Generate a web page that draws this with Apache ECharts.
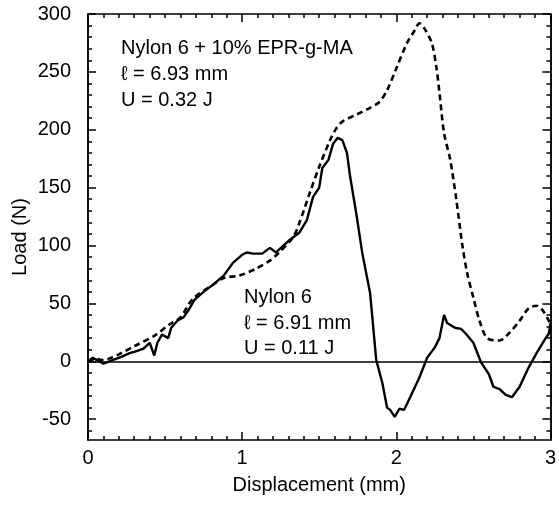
<!DOCTYPE html>
<html>
<head>
<meta charset="utf-8">
<script src="https://cdn.jsdelivr.net/npm/echarts@6/dist/echarts.min.js"></script>
<style>
  html, body { margin: 0; padding: 0; background: #fff; }
  #chart { width: 559px; height: 505px; }
</style>
</head>
<body>
<div id="chart"></div>
<script>
// Nylon 6 + 10% EPR-g-MA (dashed)
const blendX = [0, 0.05, 0.1, 0.15, 0.2, 0.3, 0.43, 0.53, 0.6, 0.68, 0.81, 0.88, 0.98, 1.09, 1.18, 1.24, 1.33, 1.37, 1.44, 1.5, 1.57, 1.61, 1.65, 1.74, 1.83, 1.89, 1.94, 2.0, 2.07, 2.12, 2.15, 2.18, 2.23, 2.26, 2.28, 2.31, 2.35, 2.39, 2.43, 2.46, 2.5, 2.54, 2.59, 2.67, 2.73, 2.8, 2.86, 2.91, 2.95, 2.99, 3.0]
const blendY = [0, 2, 1, 3, 6, 13, 22, 32, 38, 54, 66, 72, 74, 80, 87, 94, 107, 119, 146, 168, 191, 201, 207, 213, 219, 224, 234, 253, 275, 286, 292, 288, 275, 254, 232, 197, 174, 139, 99, 76, 55, 35, 20, 18, 24, 35, 46, 48, 44, 35, 32]

// Nylon 6 (solid)
const nylonX = [0, 0.03, 0.06, 0.1, 0.16, 0.22, 0.27, 0.32, 0.36, 0.4, 0.43, 0.45, 0.48, 0.52, 0.54, 0.58, 0.62, 0.66, 0.69, 0.75, 0.81, 0.88, 0.94, 1.0, 1.03, 1.07, 1.13, 1.18, 1.22, 1.26, 1.31, 1.37, 1.42, 1.46, 1.5, 1.52, 1.56, 1.59, 1.62, 1.65, 1.68, 1.7, 1.74, 1.78, 1.83, 1.87, 1.91, 1.94, 1.96, 1.99, 2.02, 2.05, 2.09, 2.15, 2.2, 2.25, 2.28, 2.31, 2.33, 2.38, 2.42, 2.45, 2.5, 2.55, 2.6, 2.63, 2.67, 2.71, 2.75, 2.8, 2.86, 2.91, 2.96, 2.99, 3.0]
const nylonY = [0, 3, 1, -2, 1, 4, 7, 9, 11, 16, 5, 16, 23, 20, 29, 35, 38, 46, 53, 60, 66, 74, 85, 92, 94, 93, 93, 98, 94, 99, 105, 111, 122, 142, 150, 167, 174, 188, 193, 191, 180, 160, 128, 93, 59, 1, -19, -40, -42, -48, -41, -42, -31, -14, 3, 12, 20, 40, 33, 29, 28, 24, 16, -1, -11, -22, -24, -29, -31, -22, -5, 7, 18, 24, 33]

const majorY = [-50, 0, 50, 100, 150, 200, 250, 300]
const minorY = [-60, -50, -40, -30, -20, -10, 0, 10, 20, 30, 40, 50, 60, 70, 80, 90, 100, 110, 120, 130, 140, 150, 160, 170, 180, 190, 200, 210, 220, 230, 240, 250, 260, 270, 280, 290, 300]

const font = 'Liberation Sans, Arial, Helvetica, sans-serif'
const zip = (xs, ys) => xs.map((x, i) => [x, ys[i]])

const chart = echarts.init(document.getElementById('chart'))

const yBase = {
  type: 'value',
  min: -68,
  max: 300,
  splitLine: { show: false },
  axisLine: { show: true, onZero: false, lineStyle: { color: '#000', width: 1.5 } }
}
const xBase = {
  type: 'value',
  min: 0,
  max: 3,
  interval: 1,
  splitLine: { show: false },
  axisLine: { show: true, onZero: false, lineStyle: { color: '#000', width: 1.5 } },
  axisTick: { show: true, inside: true, length: 8, lineStyle: { color: '#000', width: 1.5 } },
  minorTick: { show: true, splitNumber: 10, length: 4, lineStyle: { color: '#000', width: 1.5 } }
}

chart.setOption({
  animation: false,
  grid: { left: 88, right: 8, top: 14, bottom: 65 },
  xAxis: [
    Object.assign({}, xBase, {
      position: 'bottom',
      name: 'Displacement (mm)',
      nameLocation: 'middle',
      nameGap: 35,
      nameTextStyle: { fontSize: 20, color: '#000', fontFamily: font },
      axisLabel: { fontSize: 20, color: '#000', fontFamily: font, margin: 8 }
    }),
    Object.assign({}, xBase, {
      position: 'top',
      axisLabel: { show: false }
    })
  ],
  yAxis: [
    Object.assign({}, yBase, {
      position: 'left',
      axisLabel: { customValues: majorY, fontSize: 20, color: '#000', fontFamily: font, margin: 17 },
      axisTick: { customValues: majorY, inside: true, length: 8, lineStyle: { color: '#000', width: 1.5 } }
    }),
    Object.assign({}, yBase, {
      position: 'left',
      axisLabel: { show: false },
      axisTick: { customValues: minorY, inside: true, length: 4, lineStyle: { color: '#000', width: 1.5 } }
    }),
    Object.assign({}, yBase, {
      position: 'right',
      axisLabel: { show: false },
      axisTick: { customValues: majorY, inside: true, length: 8, lineStyle: { color: '#000', width: 1.5 } }
    }),
    Object.assign({}, yBase, {
      position: 'right',
      axisLabel: { show: false },
      axisTick: { customValues: minorY, inside: true, length: 4, lineStyle: { color: '#000', width: 1.5 } }
    })
  ],
  series: [
    {
      name: 'Nylon 6 + 10% EPR-g-MA',
      type: 'line',
      data: zip(blendX, blendY),
      smooth: 0.3,
      symbol: 'none',
      lineStyle: { color: '#000', width: 2.6, type: [6, 4] }
    },
    {
      name: 'Nylon 6',
      type: 'line',
      data: zip(nylonX, nylonY),
      symbol: 'none',
      lineStyle: { color: '#000', width: 2.4 },
      markLine: {
        silent: true,
        symbol: 'none',
        label: { show: false },
        lineStyle: { color: '#000', width: 1.6, type: 'solid' },
        data: [{ yAxis: 0 }]
      }
    }
  ],
  graphic: [
    {
      type: 'text',
      x: 20,
      y: 237,
      rotation: Math.PI / 2,
      style: {
        text: 'Load (N)',
        font: '20px ' + font,
        fill: '#000',
        align: 'center',
        verticalAlign: 'middle'
      }
    },
    {
      type: 'text',
      left: 121,
      top: 35,
      style: {
        text: 'Nylon 6 + 10% EPR-g-MA\nℓ = 6.93 mm\nU = 0.32 J',
        font: '20px ' + font,
        lineHeight: 26,
        fill: '#000'
      }
    },
    {
      type: 'text',
      left: 244,
      top: 285,
      style: {
        text: 'Nylon 6\nℓ = 6.91 mm\nU = 0.11 J',
        font: '20px ' + font,
        lineHeight: 25.5,
        fill: '#000'
      }
    }
  ]
})
</script>
</body>
</html>
